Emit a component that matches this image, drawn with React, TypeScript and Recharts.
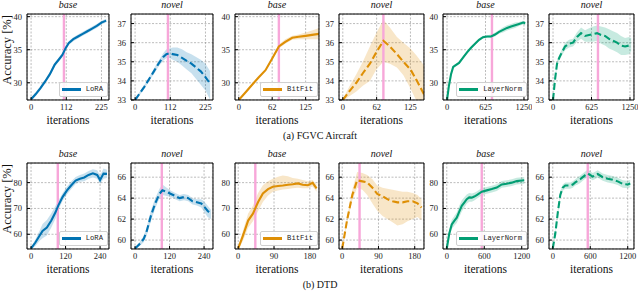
import React from "react"
import {
  Area,
  CartesianGrid,
  ComposedChart,
  Legend,
  Line,
  ReferenceLine,
  XAxis,
  YAxis,
} from "recharts"

// ---- FGVC Aircraft ----
const loraFgvcX = [0, 15, 30, 45, 60, 75, 90, 100, 110, 120, 135, 150, 165, 180, 195, 210, 225, 240]
const loraFgvcBase = [27.5, 28.3, 29.2, 30.2, 31.3, 32.7, 33.6, 34.2, 35.2, 36.0, 36.6, 37.0, 37.4, 37.8, 38.2, 38.6, 39.1, 39.4]
const loraFgvcBaseLo = [27.3, 28.0, 28.9, 29.9, 31.0, 32.4, 33.3, 33.9, 34.9, 35.7, 36.3, 36.7, 37.1, 37.5, 37.9, 38.3, 38.8, 39.1]
const loraFgvcBaseHi = [27.7, 28.6, 29.5, 30.5, 31.6, 33.0, 33.9, 34.5, 35.5, 36.3, 36.9, 37.3, 37.7, 38.1, 38.5, 38.9, 39.4, 39.7]
const loraFgvcNovel = [33.0, 33.35, 33.7, 34.1, 34.5, 34.9, 35.25, 35.4, 35.45, 35.4, 35.35, 35.2, 35.05, 34.9, 34.7, 34.5, 34.2, 33.85]
const loraFgvcNovelLo = [32.9, 33.25, 33.6, 34.0, 34.35, 34.75, 35.05, 35.2, 35.2, 35.1, 35.0, 34.8, 34.6, 34.4, 34.1, 33.8, 33.5, 33.0]
const loraFgvcNovelHi = [33.1, 33.45, 33.8, 34.2, 34.65, 35.05, 35.45, 35.65, 35.7, 35.75, 35.75, 35.65, 35.5, 35.4, 35.25, 35.1, 34.9, 34.5]

const bitfitFgvcX = [0, 12, 25, 37, 50, 62, 75, 87, 100, 112, 125, 137, 150]
const bitfitFgvcBase = [27.4, 28.5, 29.7, 30.8, 31.9, 33.6, 35.5, 36.2, 36.8, 36.95, 37.1, 37.25, 37.4]
const bitfitFgvcBaseLo = [27.35, 28.4, 29.6, 30.7, 31.8, 33.4, 35.2, 35.9, 36.5, 36.6, 36.6, 36.6, 36.6]
const bitfitFgvcBaseHi = [27.45, 28.6, 29.8, 30.9, 32.0, 33.8, 35.8, 36.6, 37.1, 37.3, 37.6, 37.9, 38.3]
const bitfitFgvcNovel = [33.0, 33.45, 33.9, 34.4, 34.9, 35.5, 36.1, 35.8, 35.4, 35.0, 34.6, 34.0, 33.3]
const bitfitFgvcNovelLo = [32.95, 33.2, 33.45, 33.75, 34.0, 34.6, 35.0, 34.9, 34.7, 34.3, 33.6, 32.9, 32.3]
const bitfitFgvcNovelHi = [33.05, 33.7, 34.35, 35.0, 35.8, 36.5, 37.2, 36.8, 36.3, 36.0, 35.7, 35.3, 34.8]

const lnFgvcX = [0, 30, 65, 100, 130, 195, 260, 325, 390, 455, 520, 585, 650, 715, 780, 845, 910, 975, 1040, 1105, 1170, 1235, 1270]
const lnFgvcBase = [27.4, 29.5, 31.3, 32.4, 32.6, 33.0, 33.8, 34.6, 35.3, 35.9, 36.5, 36.9, 37.0, 37.0, 37.3, 37.7, 38.0, 38.3, 38.5, 38.7, 38.9, 39.1, 39.0]
const lnFgvcBaseLo = [27.3, 29.3, 31.1, 32.2, 32.4, 32.8, 33.6, 34.4, 35.1, 35.7, 36.3, 36.7, 36.8, 36.8, 37.0, 37.4, 37.6, 37.9, 38.1, 38.3, 38.6, 38.8, 38.7]
const lnFgvcBaseHi = [27.5, 29.7, 31.5, 32.6, 32.8, 33.2, 34.0, 34.8, 35.5, 36.1, 36.7, 37.1, 37.2, 37.3, 37.6, 38.0, 38.4, 38.7, 38.9, 39.1, 39.2, 39.4, 39.3]
const lnFgvcNovel = [33.0, 34.0, 34.9, 35.2, 35.4, 35.8, 35.95, 36.0, 36.3, 36.5, 36.35, 36.4, 36.45, 36.5, 36.4, 36.35, 36.2, 36.1, 36.0, 35.85, 35.8, 35.85, 35.9]
const lnFgvcNovelLo = [32.9, 33.85, 34.75, 35.05, 35.25, 35.6, 35.75, 35.8, 36.05, 36.2, 36.05, 36.05, 36.05, 36.1, 35.95, 35.85, 35.7, 35.6, 35.5, 35.35, 35.35, 35.4, 35.55]
const lnFgvcNovelHi = [33.1, 34.15, 35.05, 35.35, 35.55, 36.0, 36.15, 36.2, 36.55, 36.8, 36.65, 36.75, 36.85, 36.9, 36.85, 36.8, 36.7, 36.6, 36.5, 36.35, 36.25, 36.3, 36.25]

// ---- DTD ----
const loraDtdX = [0, 15, 30, 40, 55, 70, 85, 95, 110, 125, 140, 155, 170, 185, 200, 215, 230, 240, 252, 264]
const loraDtdBase = [54.5, 56.8, 59.5, 61.3, 62.6, 65.2, 68.5, 71.2, 74.5, 77.0, 79.0, 80.8, 81.5, 82.0, 83.0, 83.6, 83.0, 81.0, 83.5, 83.4]
const loraDtdBaseLo = [54.0, 55.5, 57.5, 58.5, 59.5, 62.5, 66.0, 69.5, 73.0, 75.5, 77.5, 79.5, 80.3, 80.5, 81.5, 82.0, 81.5, 79.5, 81.5, 81.8]
const loraDtdBaseHi = [55.0, 58.0, 61.5, 64.0, 65.5, 68.0, 71.0, 73.0, 76.0, 78.5, 80.5, 82.2, 83.0, 83.5, 84.5, 85.2, 84.8, 82.8, 85.5, 85.0]
const loraDtdNovel = [59.2, 59.6, 60.1, 60.8, 62.3, 63.5, 64.4, 64.75, 64.6, 64.4, 64.2, 64.0, 64.1, 64.0, 63.7, 63.6, 63.5, 63.2, 62.8, 62.5]
const loraDtdNovelLo = [59.1, 59.4, 59.8, 60.4, 61.8, 63.0, 64.0, 64.3, 64.2, 64.1, 63.9, 63.7, 63.8, 63.7, 63.4, 63.3, 63.1, 62.7, 62.2, 62.0]
const loraDtdNovelHi = [59.3, 59.8, 60.4, 61.2, 62.8, 64.0, 64.9, 65.3, 65.0, 64.7, 64.5, 64.3, 64.4, 64.3, 64.0, 63.9, 63.9, 63.7, 63.3, 62.9]

const bitfitDtdX = [0, 12, 25, 37, 50, 62, 75, 87, 100, 112, 125, 137, 150, 162, 175, 187, 197]
const bitfitDtdBase = [54.5, 59.5, 65.3, 68.0, 72.5, 75.8, 77.5, 78.4, 78.7, 78.9, 79.2, 79.4, 79.7, 79.2, 79.0, 79.9, 77.8]
const bitfitDtdBaseLo = [54.0, 57.5, 62.5, 65.0, 69.0, 72.5, 75.0, 76.5, 77.0, 77.3, 77.5, 77.8, 78.0, 77.8, 77.8, 78.5, 76.5]
const bitfitDtdBaseHi = [55.0, 61.5, 68.0, 71.0, 76.0, 79.0, 80.5, 81.5, 82.3, 82.8, 82.5, 81.8, 81.5, 81.0, 80.5, 81.0, 79.3]
const bitfitDtdNovel = [59.2, 61.9, 64.3, 65.7, 65.6, 65.5, 65.0, 64.4, 64.2, 63.9, 63.7, 63.6, 63.6, 63.7, 63.7, 63.5, 63.1]
const bitfitDtdNovelLo = [59.1, 61.6, 63.8, 65.0, 64.8, 64.3, 63.5, 62.8, 62.3, 62.0, 61.7, 61.4, 61.5, 61.8, 62.0, 62.2, 61.9]
const bitfitDtdNovelHi = [59.3, 62.2, 64.8, 66.5, 66.4, 66.2, 65.8, 65.2, 65.0, 64.9, 64.8, 64.7, 64.6, 64.6, 64.5, 64.3, 63.9]

const lnDtdX = [0, 40, 80, 120, 160, 200, 240, 280, 320, 360, 400, 440, 480, 520, 560, 640, 720, 800, 880, 960, 1040, 1120, 1200, 1240]
const lnDtdBase = [54.5, 60.3, 63.8, 65.2, 66.4, 68.8, 71.0, 72.3, 73.6, 74.3, 74.2, 74.6, 75.2, 75.8, 76.5, 77.0, 77.5, 78.1, 79.3, 79.6, 80.0, 80.6, 80.8, 80.9]
const lnDtdBaseLo = [54.0, 58.8, 62.0, 63.3, 64.4, 66.6, 68.8, 70.3, 71.8, 72.6, 72.6, 73.1, 73.8, 74.4, 75.1, 75.7, 76.2, 76.8, 78.0, 78.3, 78.7, 79.3, 79.5, 79.6]
const lnDtdBaseHi = [55.0, 61.8, 65.6, 67.1, 68.4, 71.0, 73.2, 74.3, 75.4, 76.0, 75.8, 76.1, 76.6, 77.2, 77.9, 78.3, 78.8, 79.4, 80.6, 80.9, 81.3, 81.9, 82.1, 82.2]
const lnDtdNovel = [59.2, 60.6, 62.6, 64.3, 65.0, 65.2, 65.2, 65.2, 65.3, 65.5, 65.65, 65.8, 66.0, 66.2, 66.35, 66.05, 66.3, 66.0, 65.85, 65.75, 65.6, 65.35, 65.3, 65.4]
const lnDtdNovelLo = [59.1, 60.4, 62.3, 64.0, 64.7, 64.9, 64.9, 64.9, 65.0, 65.2, 65.3, 65.45, 65.65, 65.85, 66.0, 65.7, 65.95, 65.65, 65.5, 65.4, 65.25, 65.0, 64.95, 65.05]
const lnDtdNovelHi = [59.3, 60.8, 62.9, 64.6, 65.3, 65.5, 65.5, 65.5, 65.6, 65.8, 66.0, 66.15, 66.35, 66.55, 66.7, 66.4, 66.65, 66.35, 66.2, 66.1, 65.95, 65.7, 65.65, 65.75]

// ticks / marked iteration
const loraFgvcTicks = [0, 112.5, 225]
const bitfitFgvcTicks = [0, 62.5, 125]
const lnFgvcTicks = [0, 625, 1250]
const loraDtdTicks = [0, 120, 240]
const bitfitDtdTicks = [0, 90, 180]
const lnDtdTicks = [0, 600, 1200]
const fgvcBaseTicks = [30, 35, 40]
const fgvcNovelTicks = [33, 34, 35, 36, 37]
const dtdBaseTicks = [60, 70, 80]
const dtdNovelTicks = [60, 62, 64, 66]
const pinkIter = { loraFgvc: 105, bitfitFgvc: 75, lnFgvc: 730, loraDtd: 93, bitfitDtd: 43, lnDtd: 560 }

const BLUE = "#0173B2"
const ORANGE = "#DE8F05"
const GREEN = "#029E73"
const PINK = "#F7A7D9"
const SERIF = "'Liberation Serif', 'Times New Roman', serif"
const MONO = "'Liberation Mono', 'DejaVu Sans Mono', monospace"

const LEFTS = [27, 131, 235, 339, 443, 549]
const RIGHTS = [109, 213, 319, 424, 528, 634]
const TOPS = [14, 163]
const FRAME_H = 86
const ML = 28
const MR = 4
const MT = 4
const MB = 14
const THIN = 0.01 // axes need a non-zero box to be drawn

type Spec = {
  x: number[]
  mean: number[]
  lo: number[]
  hi: number[]
  color: string
  dashed: boolean
  name?: string
  title: string
  xTicks: number[]
  xStep: number
  xDomain: [number, number]
  yTicks: number[]
  yStep: number
  yDomain: [number, number]
  pink: number
}

function minorTicks(domain: [number, number], step: number) {
  const out: number[] = []
  let v = Math.ceil(domain[0] / step) * step
  while (v <= domain[1] + 1e-9) {
    out.push(+v.toFixed(4))
    v += step
  }
  return out
}

const fgvcBaseY = { yTicks: fgvcBaseTicks, yStep: 1, yDomain: [27.4, 40.4] as [number, number] }
const fgvcNovelY = { yTicks: fgvcNovelTicks, yStep: 0.2, yDomain: [33, 37.5] as [number, number] }
const dtdBaseY = { yTicks: dtdBaseTicks, yStep: 2, yDomain: [54.3, 87.6] as [number, number] }
const dtdNovelY = { yTicks: dtdNovelTicks, yStep: 0.5, yDomain: [59.15, 67.35] as [number, number] }

const loraFgvcXA = { xTicks: loraFgvcTicks, xStep: 28.125, xDomain: [-13, 249] as [number, number], pink: pinkIter.loraFgvc }
const bitfitFgvcXA = { xTicks: bitfitFgvcTicks, xStep: 15.625, xDomain: [-7, 150] as [number, number], pink: pinkIter.bitfitFgvc }
const lnFgvcXA = { xTicks: lnFgvcTicks, xStep: 156.25, xDomain: [-65, 1315] as [number, number], pink: pinkIter.lnFgvc }
const loraDtdXA = { xTicks: loraDtdTicks, xStep: 30, xDomain: [-14, 271] as [number, number], pink: pinkIter.loraDtd }
const bitfitDtdXA = { xTicks: bitfitDtdTicks, xStep: 22.5, xDomain: [-8, 203] as [number, number], pink: pinkIter.bitfitDtd }
const lnDtdXA = { xTicks: lnDtdTicks, xStep: 150, xDomain: [-60, 1300] as [number, number], pink: pinkIter.lnDtd }

const rows: Spec[][] = [
  [
    { x: loraFgvcX, mean: loraFgvcBase, lo: loraFgvcBaseLo, hi: loraFgvcBaseHi, color: BLUE, dashed: false, name: "LoRA", title: "base", ...loraFgvcXA, ...fgvcBaseY },
    { x: loraFgvcX, mean: loraFgvcNovel, lo: loraFgvcNovelLo, hi: loraFgvcNovelHi, color: BLUE, dashed: true, title: "novel", ...loraFgvcXA, ...fgvcNovelY },
    { x: bitfitFgvcX, mean: bitfitFgvcBase, lo: bitfitFgvcBaseLo, hi: bitfitFgvcBaseHi, color: ORANGE, dashed: false, name: "BitFit", title: "base", ...bitfitFgvcXA, ...fgvcBaseY },
    { x: bitfitFgvcX, mean: bitfitFgvcNovel, lo: bitfitFgvcNovelLo, hi: bitfitFgvcNovelHi, color: ORANGE, dashed: true, title: "novel", ...bitfitFgvcXA, ...fgvcNovelY },
    { x: lnFgvcX, mean: lnFgvcBase, lo: lnFgvcBaseLo, hi: lnFgvcBaseHi, color: GREEN, dashed: false, name: "LayerNorm", title: "base", ...lnFgvcXA, ...fgvcBaseY },
    { x: lnFgvcX, mean: lnFgvcNovel, lo: lnFgvcNovelLo, hi: lnFgvcNovelHi, color: GREEN, dashed: true, title: "novel", ...lnFgvcXA, ...fgvcNovelY },
  ],
  [
    { x: loraDtdX, mean: loraDtdBase, lo: loraDtdBaseLo, hi: loraDtdBaseHi, color: BLUE, dashed: false, name: "LoRA", title: "base", ...loraDtdXA, ...dtdBaseY },
    { x: loraDtdX, mean: loraDtdNovel, lo: loraDtdNovelLo, hi: loraDtdNovelHi, color: BLUE, dashed: true, title: "novel", ...loraDtdXA, ...dtdNovelY },
    { x: bitfitDtdX, mean: bitfitDtdBase, lo: bitfitDtdBaseLo, hi: bitfitDtdBaseHi, color: ORANGE, dashed: false, name: "BitFit", title: "base", ...bitfitDtdXA, ...dtdBaseY },
    { x: bitfitDtdX, mean: bitfitDtdNovel, lo: bitfitDtdNovelLo, hi: bitfitDtdNovelHi, color: ORANGE, dashed: true, title: "novel", ...bitfitDtdXA, ...dtdNovelY },
    { x: lnDtdX, mean: lnDtdBase, lo: lnDtdBaseLo, hi: lnDtdBaseHi, color: GREEN, dashed: false, name: "LayerNorm", title: "base", ...lnDtdXA, ...dtdBaseY },
    { x: lnDtdX, mean: lnDtdNovel, lo: lnDtdNovelLo, hi: lnDtdNovelHi, color: GREEN, dashed: true, title: "novel", ...lnDtdXA, ...dtdNovelY },
  ],
]

const captions = ["(a) FGVC Aircraft", "(b) DTD"]
const yLabel = "Accuracy [%]"

function LegendBox({ name, color }: { name: string; color: string }) {
  return (
    <div
      style={{
        display: "flex",
        alignItems: "center",
        background: "rgba(255,255,255,0.85)",
        border: "1px solid #d0d0d0",
        borderRadius: 2,
        padding: "3px 4px 3px 2px",
        fontFamily: MONO,
        fontSize: 7.2,
        lineHeight: "7px",
        color: "#222",
        whiteSpace: "nowrap",
      }}
    >
      <span style={{ display: "inline-block", width: 19, height: 2.5, background: color, marginRight: 5 }} />
      {name}
    </div>
  )
}

// rotated y label drawn next to the left axis of the first column
function AccuracyLabel(props: any) {
  const vb = props.viewBox || {}
  const x = (vb.x ?? 0) - 20
  const y = (vb.y ?? 0) + (vb.height ?? 0) / 2 - 7
  return (
    <text
      x={x}
      y={y}
      transform={`rotate(-90 ${x} ${y})`}
      textAnchor="middle"
      dominantBaseline="central"
      fontFamily={SERIF}
      fontSize={12.5}
      fill="#111"
    >
      {yLabel}
    </text>
  )
}

function Panel({ spec, left, right, top, first }: { spec: Spec; left: number; right: number; top: number; first: boolean }) {
  const w = right - left
  const data = spec.x.map((x, i) => ({ x, mean: spec.mean[i], band: [spec.lo[i], spec.hi[i]] }))
  const xMinor = minorTicks(spec.xDomain, spec.xStep)
  const yMinor = minorTicks(spec.yDomain, spec.yStep)
  const xa = { type: "number" as const, dataKey: "x", domain: spec.xDomain, allowDataOverflow: true, height: THIN, stroke: "#000", interval: 0 as const }
  const ya = { type: "number" as const, domain: spec.yDomain, allowDataOverflow: true, width: THIN, stroke: "#000", interval: 0 as const }
  const tickFont = { fontSize: 8.5, fill: "#222", fontFamily: SERIF }
  return (
    <div style={{ position: "absolute", left: left - ML, top: top - MT }}>
      <ComposedChart width={w + ML + MR} height={FRAME_H + MT + MB} data={data} margin={{ top: MT, right: MR, bottom: MB, left: ML }}>
        <CartesianGrid xAxisId="b" yAxisId="l" stroke="#8f8f8f" strokeWidth={0.6} strokeDasharray="2 1.5" />
        <XAxis xAxisId="bm" orientation="bottom" ticks={xMinor} tick={false} tickSize={-1.6} axisLine={false} {...xa} />
        <XAxis xAxisId="b" orientation="bottom" ticks={spec.xTicks} tickSize={-3} tickMargin={7} tick={tickFont} tickFormatter={(v: number) => String(Math.floor(v))} {...xa} />
        <XAxis xAxisId="tm" orientation="top" ticks={xMinor} tick={false} tickSize={-1.6} axisLine={false} {...xa} />
        <XAxis xAxisId="t" orientation="top" ticks={spec.xTicks} tick={false} tickSize={-3} {...xa} />
        <YAxis yAxisId="lm" orientation="left" ticks={yMinor} tick={false} tickSize={-1.6} axisLine={false} {...ya} />
        <YAxis
          yAxisId="l"
          orientation="left"
          ticks={spec.yTicks}
          tickSize={-3}
          tickMargin={8}
          tick={tickFont}
          label={first ? { content: AccuracyLabel } : undefined}
          {...ya}
        />
        <YAxis yAxisId="rm" orientation="right" ticks={yMinor} tick={false} tickSize={-1.6} axisLine={false} {...ya} />
        <YAxis yAxisId="r" orientation="right" ticks={spec.yTicks} tick={false} tickSize={-3} {...ya} />
        <Area
          xAxisId="b"
          yAxisId="l"
          type="linear"
          dataKey="band"
          stroke="none"
          fill={spec.color}
          fillOpacity={0.22}
          isAnimationActive={false}
        />
        <ReferenceLine xAxisId="b" yAxisId="l" x={spec.pink} stroke={PINK} strokeWidth={2.4} zIndex={350} />
        <Line
          xAxisId="b"
          yAxisId="l"
          type="linear"
          dataKey="mean"
          stroke={spec.color}
          strokeWidth={2.1}
          strokeDasharray={spec.dashed ? "7 3.2" : undefined}
          dot={false}
          activeDot={false}
          isAnimationActive={false}
        />
        {spec.name && (
          <Legend
            layout="vertical"
            align="center"
            verticalAlign="middle"
            wrapperStyle={{ right: MR + 1, bottom: MB + 3, width: "auto" }}
            content={() => <LegendBox name={spec.name as string} color={spec.color} />}
          />
        )}
      </ComposedChart>
    </div>
  )
}

const textBase: React.CSSProperties = { position: "absolute", fontFamily: SERIF, color: "#111", textAlign: "center", whiteSpace: "nowrap" }

export default function App() {
  return (
    <div style={{ position: "fixed", left: 0, top: 0, width: 640, height: 292, background: "#fff", overflow: "hidden" }}>
      {rows.map((row, r) => (
        <React.Fragment key={r}>
          {row.map((spec, c) => {
            const cx = (LEFTS[c] + RIGHTS[c]) / 2
            return (
              <React.Fragment key={c}>
                <div style={{ ...textBase, left: cx - 40, width: 80, top: TOPS[r] - 14, fontSize: 10, lineHeight: "10px", fontStyle: "italic" }}>
                  {spec.title}
                </div>
                <Panel spec={spec} left={LEFTS[c]} right={RIGHTS[c]} top={TOPS[r]} first={c === 0} />
                <div style={{ ...textBase, left: cx - 40, width: 80, top: TOPS[r] + FRAME_H + 13.8, fontSize: 11.5, lineHeight: "12px" }}>
                  iterations
                </div>
              </React.Fragment>
            )
          })}
          <div style={{ ...textBase, left: 220, width: 200, top: r === 0 ? 130.6 : 279.6, fontSize: 10, lineHeight: "10px" }}>
            {captions[r]}
          </div>
        </React.Fragment>
      ))}
    </div>
  )
}
